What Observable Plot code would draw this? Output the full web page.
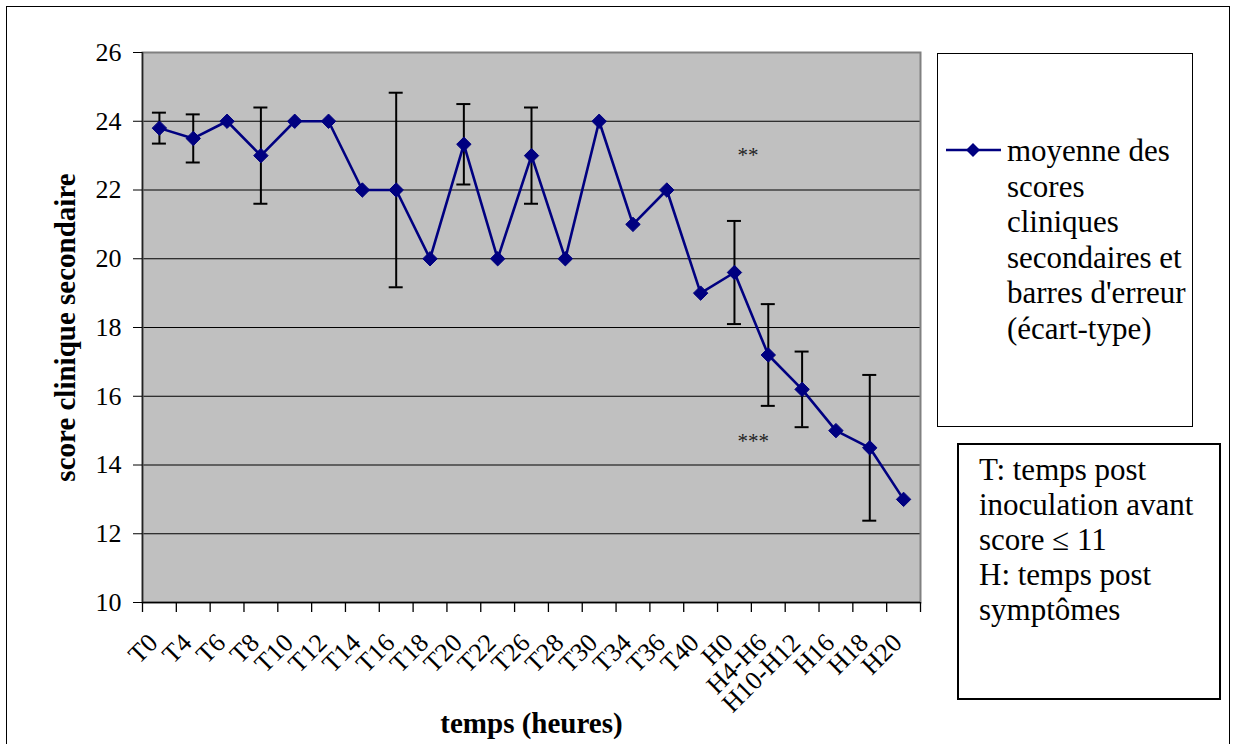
<!DOCTYPE html>
<html>
<head>
<meta charset="utf-8">
<script src="https://cdn.jsdelivr.net/npm/d3@7"></script>
<script src="https://cdn.jsdelivr.net/npm/@observablehq/plot@0.6"></script>
<style>
  html, body { margin: 0; padding: 0; background: #fff; overflow: hidden; font-family: "Liberation Serif", "Times New Roman", serif; }
  #wrap { position: relative; width: 1234px; height: 744px; }
  #chart { position: absolute; left: 0; top: 0; }
  .outer { position: absolute; left: 6px; top: 6px; width: 1224px; height: 760px; border: 1.5px solid #000; box-sizing: border-box; }
  .box { position: absolute; box-sizing: border-box; background: #fff; color: #000; }
  .txt { font-family: "Liberation Serif", "Times New Roman", serif !important; color: #000; }
  #legend1 { left: 937px; top: 53px; width: 256px; height: 374px; border: 1.5px solid #000; }
  #legend1 .txt { position: absolute; left: 69px; top: 79px; font-size: 31px; line-height: 35.6px; white-space: nowrap; }
  #legend1 svg { position: absolute; left: 6px; top: 88px; }
  #legend2 { left: 957px; top: 443px; width: 264px; height: 257px; border: 2px solid #000; }
  #legend2 .txt { position: absolute; left: 20px; top: 7px; font-size: 31px; line-height: 35px; white-space: nowrap; }
</style>
</head>
<body>
<div id="wrap">
  <div id="chart"></div>
  <div class="outer"></div>
  <div class="box" id="legend1">
    <svg width="60" height="16" viewBox="0 0 60 16">
      <line x1="2" y1="8" x2="57" y2="8" stroke="#000080" stroke-width="2.5"></line>
      <path d="M29,1 L36,8 L29,15 L22,8 Z" fill="#000080"></path>
    </svg>
    <div class="txt" id="legendText"></div>
  </div>
  <div class="box" id="legend2">
    <div class="txt" id="noteText"></div>
  </div>
</div>
<script>
// ---- data ----
const categories = ["T0","T4","T6","T8","T10","T12","T14","T16","T18","T20","T22","T26","T28","T30","T34","T36","T40","H0","H4-H6","H10-H12","H16","H18","H20"];
const means = [23.8, 23.5, 24, 23, 24, 24, 22, 22, 20, 23.33, 20, 23, 20, 24, 21, 22, 19, 19.6, 17.2, 16.2, 15, 14.5, 13];
const sds   = [0.45, 0.7, null, 1.4, null, null, null, 2.83, null, 1.17, null, 1.4, null, null, null, null, null, 1.5, 1.48, 1.1, null, 2.12, null];
const yTicks = [10, 12, 14, 16, 18, 20, 22, 24, 26];
const starLabels = ["**", "***"];
const starCats = ["H0", "H0"];
const starValues = [23, 14.7];
const legendLines = ["moyenne des", "scores", "cliniques", "secondaires et", "barres d'erreur", "(écart-type)"];
const noteLines = ["T: temps post", "inoculation avant", "score \u2264 11", "H: temps post", "symptômes"];
const xLabel = "temps (heures)";
const yLabel = "score clinique secondaire";

// ---- build ----
const data = categories.map((c, i) => ({cat: c, mean: means[i], sd: sds[i]}));
const errData = data.filter(d => d.sd != null);
const stars = starLabels.map((s, i) => ({label: s, cat: starCats[i], y: starValues[i]}));

const W = 1234, H = 744, mL = 142, mR = 314, mT = 52, mB = 142;
const bw = (W - mL - mR) / categories.length;
const serif = '"Liberation Serif", "Times New Roman", serif';

const chart = Plot.plot({
  width: W, height: H,
  marginLeft: mL, marginRight: mR, marginTop: mT, marginBottom: mB,
  style: {background: "transparent", fontFamily: serif, color: "#000", overflow: "visible"},
  x: {type: "band", domain: categories, padding: 0, round: false},
  y: {domain: [10, 26]},
  marks: [
    Plot.frame({fill: "#C0C0C0"}),
    Plot.ruleY(yTicks, {stroke: "#000", strokeWidth: 1}),
    Plot.frame({stroke: "#808080", strokeWidth: 2}),
    Plot.ruleY([10], {stroke: "#000", strokeWidth: 1.5}),
    Plot.ruleX([categories[0]], {dx: -bw / 2, stroke: "#222", strokeWidth: 1.5}),
    // category boundary ticks
    Plot.ruleX(categories, {x: d => d, y1: () => 10, y2: () => 10, dx: -bw / 2, insetBottom: -10, stroke: "#000", strokeWidth: 1.3}),
    Plot.ruleX([categories[categories.length - 1]], {x: d => d, y1: () => 10, y2: () => 10, dx: bw / 2, insetBottom: -10, stroke: "#000", strokeWidth: 1.3}),
    // error bars
    Plot.ruleX(errData, {x: "cat", y1: d => d.mean - d.sd, y2: d => d.mean + d.sd, stroke: "#000", strokeWidth: 2}),
    Plot.tickY(errData, {x: "cat", y: d => d.mean + d.sd, insetLeft: (bw - 14) / 2, insetRight: (bw - 14) / 2, stroke: "#000", strokeWidth: 2}),
    Plot.tickY(errData, {x: "cat", y: d => d.mean - d.sd, insetLeft: (bw - 14) / 2, insetRight: (bw - 14) / 2, stroke: "#000", strokeWidth: 2}),
    // series
    Plot.line(data, {x: "cat", y: "mean", stroke: "#000080", strokeWidth: 2.6}),
    Plot.dot(data, {x: "cat", y: "mean", symbol: "diamond2", r: 6.5, fill: "#000080", stroke: "#000080", strokeWidth: 1}),
    // significance stars
    Plot.text(stars, {x: "cat", y: "y", text: "label", textAnchor: "start", dx: 3, fontSize: 21, fill: "#222"}),
    // axes
    Plot.axisY(yTicks, {tickSize: 9, tickPadding: 12, fontSize: 26, label: null}),
    Plot.axisX({tickSize: 0, tickRotate: -45, tickPadding: 36, dx: -6, fontSize: 26, label: null}),
    // axis titles
    Plot.text([yLabel], {frameAnchor: "left", textAnchor: "middle", rotate: -90, dx: -77, fontSize: 29, fontWeight: "bold", fill: "#000"}),
    Plot.text([xLabel], {frameAnchor: "bottom", dy: 130, fontSize: 29, fontWeight: "bold", fill: "#000"})
  ]
});
document.getElementById("chart").appendChild(chart);
document.getElementById("legendText").innerHTML = legendLines.join("<br>");
document.getElementById("noteText").innerHTML = noteLines.join("<br>");
</script>
</body>
</html>
